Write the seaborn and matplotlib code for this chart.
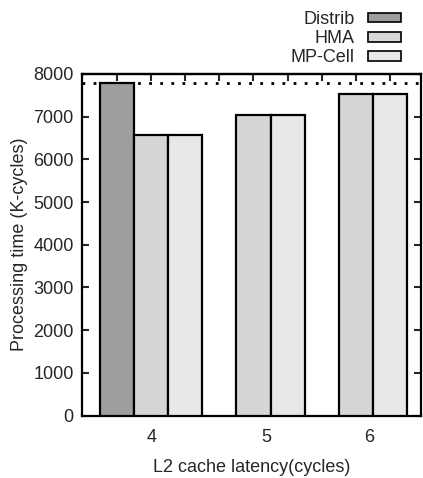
import seaborn as sns
import pandas as pd
import matplotlib.pyplot as plt
from matplotlib.patches import Patch

latency = ["4", "4", "4", "5", "5", "6", "6"]
system = ["Distrib", "HMA", "MP-Cell", "HMA", "MP-Cell", "HMA", "MP-Cell"]
cycles = [7800, 6570, 6570, 7050, 7040, 7520, 7520]
distrib_level = 7800

systems = ["Distrib", "HMA", "MP-Cell"]
colors = ["#9e9e9e", "#d6d6d6", "#e8e8e8"]
tick_labels = ["4", "5", "6"]

df = pd.DataFrame({"latency": latency, "system": system, "cycles": cycles})

sns.set_theme(style="white")
plt.rcParams["font.family"] = ["Liberation Sans", "DejaVu Sans"]

fig = plt.figure(figsize=(4.23, 4.78), dpi=100)
ax = fig.add_axes([82 / 423, 1 - 415.5 / 478, 339 / 423, 341.5 / 478])

sns.barplot(data=df, x="latency", y="cycles", hue="system", hue_order=systems,
            order=tick_labels, palette=colors, width=1.0, dodge=True,
            edgecolor="black", linewidth=1.6, errorbar=None, legend=False,
            saturation=1, ax=ax, zorder=3)

ax.axhline(distrib_level, color="black", linestyle=(0, (1, 3)), linewidth=2, zorder=1)

ax.set_yticks(range(0, 8001, 1000))
ax.set_xticks([0, 1.13, 2.13])
ax.set_xticklabels(tick_labels)
ax.tick_params(axis="x", length=0, labelsize=13, pad=10)
ax.tick_params(axis="y", direction="in", length=5, width=1.5, labelsize=13,
               right=True, left=True, pad=6)
ax.set_xlabel("L2 cache latency(cycles)", fontsize=13, labelpad=9)
ax.set_ylabel("Processing time (K-cycles)", fontsize=13, labelpad=4)

# small ticks along the top at every bar slot
top = ax.secondary_xaxis("top")
top.set_xticks([i / 3 - 1 / 3 for i in range(9)])
top.set_xticklabels([])
top.tick_params(axis="x", direction="in", length=5, width=1.5)
top.spines["top"].set_linewidth(1.6)

for s in ax.spines.values():
    s.set_color("black")
    s.set_linewidth(1.6)

ax.set_xlim(-0.676, 2.637)
ax.set_ylim(0, 8000)

handles = [Patch(facecolor=c, edgecolor="black", linewidth=1.2) for c in colors]
fig.legend(handles, systems, loc="upper right", bbox_to_anchor=(410 / 423, 1 - 2 / 478),
           frameon=False, markerfirst=False, fontsize=13, handlelength=1.85,
           handleheight=0.45, labelspacing=0.12, borderpad=0, handletextpad=0.72)

plt.savefig("out.png", dpi=100)
